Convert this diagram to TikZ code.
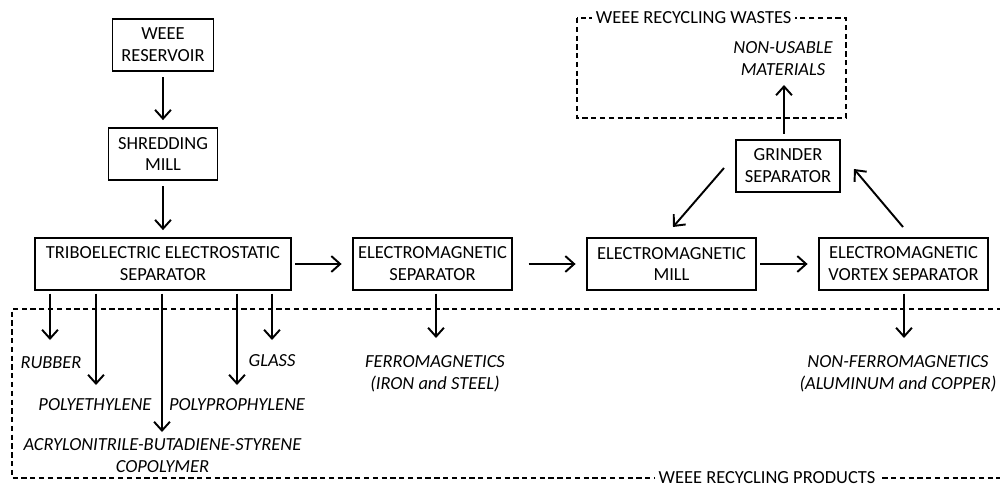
\documentclass[tikz,border=0pt]{standalone}
\usepackage{fontspec}
\setmainfont{Carlito}
\usetikzlibrary{arrows.meta}
\begin{document}
\begin{tikzpicture}[x=0.02cm,y=-0.02cm,
  every node/.style={font=\fontsize{10.5}{12.5}\selectfont},
  box/.style={draw,line width=1pt,align=center,inner sep=0pt,minimum height={52*0.02cm}},
  lbl/.style={font=\fontsize{10.5}{12.5}\selectfont\itshape,align=center,inner sep=0pt},
  arr/.style={line width=1.1pt,-{Straight Barb[length=5pt,width=9pt,line width=1.1pt]}},
  dbox/.style={line width=0.75pt,dash pattern=on 3pt off 2pt},
  ttl/.style={fill=white,inner sep=2pt}]
\useasboundingbox (0,0) rectangle (1000,486);
% dashed regions
\draw[dbox] (1002,309) -- (12,309) -- (12,478) -- (1002,478);
\node[ttl] (prod) at (767,478) {WEEE RECYCLING PRODUCTS};
\draw[dbox] (577,18) rectangle (846,118);
\node[ttl,anchor=west] (waste) at (592,18) {WEEE RECYCLING WASTES};
% boxes
\node[box,minimum width={101*0.02cm}] (res) at (163,45) {WEEE\\RESERVOIR};
\node[box,minimum width={109*0.02cm}] (shred) at (163,154) {SHREDDING\\MILL};
\node[box,minimum width={256*0.02cm}] (tribo) at (163,264) {TRIBOELECTRIC ELECTROSTATIC\\SEPARATOR};
\node[box,minimum width={159*0.02cm}] (emsep) at (432.5,264) {ELECTROMAGNETIC\\SEPARATOR};
\node[box,minimum width={169*0.02cm}] (emmill) at (671.5,264) {ELECTROMAGNETIC\\MILL};
\node[box,minimum width={169*0.02cm}] (vortex) at (903.5,264) {ELECTROMAGNETIC\\VORTEX SEPARATOR};
\node[box,minimum width={104*0.02cm}] (grind) at (788,166) {GRINDER\\SEPARATOR};
% labels
\node[lbl] (rubber) at (51,363) {RUBBER};
\node[lbl] (pe) at (95,405) {POLYETHYLENE};
\node[lbl] (pp) at (237,405) {POLYPROPHYLENE};
\node[lbl] (glass) at (272,361) {GLASS};
\node[lbl] (abs) at (162.5,456) {ACRYLONITRILE-BUTADIENE-STYRENE\\COPOLYMER};
\node[lbl] (ferro) at (435,374) {FERROMAGNETICS\\(IRON and STEEL)};
\node[lbl] (nonferro) at (898,374) {NON-FERROMAGNETICS\\(ALUMINUM and COPPER)};
\node[lbl] (nonusable) at (783,59) {NON-USABLE\\MATERIALS};
% coordinates for free ends
\coordinate (a1) at (50,340);
\coordinate (a2) at (96,385);
\coordinate (a3) at (162,432);
\coordinate (a4) at (237,385);
\coordinate (a5) at (272,340);
\coordinate (a6) at (436,338);
\coordinate (a7) at (904,338);
\coordinate (g1) at (724,168);
\coordinate (g2) at (673,227);
\coordinate (v1) at (903,227);
\coordinate (v2) at (854,169);
\coordinate (w1) at (784,85);
% connectors
\draw[arr,shorten <=3pt,shorten >=4pt] (res) -- (shred);
\draw[arr,shorten <=3pt,shorten >=4pt] (shred) -- (tribo);
\draw[arr,shorten <=2pt,shorten >=6pt] (tribo) -- (emsep);
\draw[arr,shorten <=9pt,shorten >=6pt] (emsep) -- (emmill);
\draw[arr,shorten <=2pt,shorten >=6pt] (emmill) -- (vortex);
\draw[arr] (g1) -- (g2);
\draw[arr] (v1) -- (v2);
\draw[arr,shorten <=3pt] (grind.north -| w1) -- (w1);
\foreach \c in {a1,a2,a3,a4,a5}
  \draw[arr] ([yshift=-1.5pt]tribo.south -| \c) -- (\c);
\draw[arr] ([yshift=-1.5pt]emsep.south -| a6) -- (a6);
\draw[arr] ([yshift=-1.5pt]vortex.south -| a7) -- (a7);
\end{tikzpicture}
\end{document}
